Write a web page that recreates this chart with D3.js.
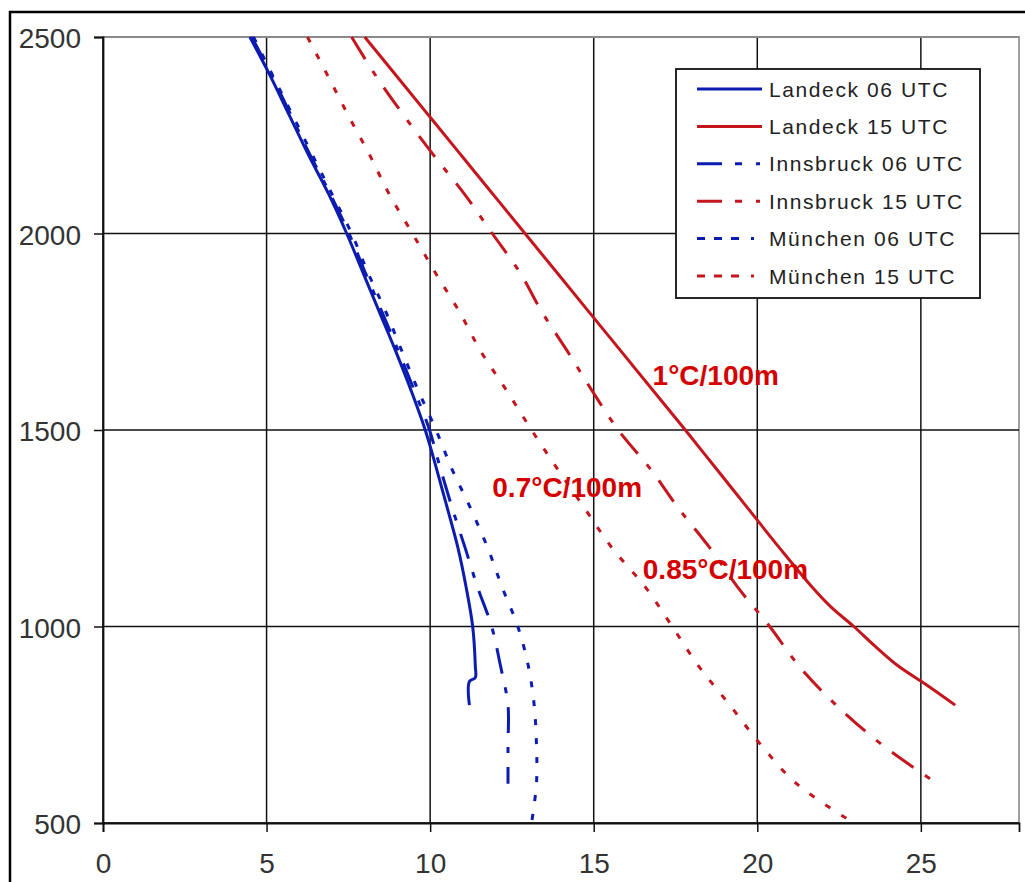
<!DOCTYPE html>
<html>
<head>
<meta charset="utf-8">
<script src="https://cdn.jsdelivr.net/npm/d3@7"></script>
<style>
  html, body { margin: 0; padding: 0; background: #fff; }
  svg { display: block; }
</style>
</head>
<body>
<svg id="chart" width="1025" height="882"></svg>
<script>
// ---- data ----
const xTicks = [0, 5, 10, 15, 20, 25];
const yTicks = [500, 1000, 1500, 2000, 2500];

const landeck06H = [2500, 2400, 2300, 2200, 2100, 2000, 1900, 1800, 1700, 1600, 1500, 1400, 1300, 1200, 1100, 1000, 900, 870, 860, 800];
const landeck06T = [4.49, 5.12, 5.7, 6.28, 6.9, 7.45, 7.95, 8.45, 8.95, 9.42, 9.85, 10.2, 10.53, 10.85, 11.1, 11.3, 11.38, 11.38, 11.2, 11.2];

const landeck15H = [2500, 2400, 2300, 2200, 2100, 2000, 1900, 1800, 1700, 1600, 1500, 1400, 1300, 1200, 1100, 1050, 1000, 950, 900, 850, 800];
const landeck15T = [8.0, 8.98, 9.96, 10.94, 11.92, 12.9, 13.88, 14.86, 15.84, 16.82, 17.8, 18.76, 19.72, 20.68, 21.68, 22.25, 22.95, 23.6, 24.3, 25.2, 26.05];

const innsbruck06H = [2500, 2400, 2300, 2200, 2100, 2000, 1900, 1800, 1700, 1600, 1500, 1400, 1300, 1200, 1100, 1000, 900, 800, 700, 600];
const innsbruck06T = [4.55, 5.17, 5.75, 6.33, 6.95, 7.52, 8.02, 8.53, 9.03, 9.52, 9.98, 10.32, 10.68, 11.07, 11.45, 11.88, 12.15, 12.38, 12.38, 12.38];

const innsbruck15H = [2500, 2400, 2300, 2200, 2100, 2000, 1900, 1800, 1700, 1600, 1500, 1400, 1300, 1200, 1100, 1000, 900, 800, 700, 600];
const innsbruck15T = [7.6, 8.35, 9.2, 10.1, 11.05, 11.9, 12.75, 13.42, 14.2, 14.95, 15.75, 16.74, 17.6, 18.55, 19.4, 20.38, 21.27, 22.41, 23.8, 25.5];

const muenchen06H = [2500, 2400, 2300, 2200, 2100, 2000, 1900, 1800, 1700, 1600, 1500, 1400, 1300, 1200, 1100, 1000, 900, 800, 700, 600, 500];
const muenchen06T = [4.6, 5.2, 5.8, 6.4, 7.0, 7.6, 8.1, 8.65, 9.14, 9.64, 10.18, 10.67, 11.24, 11.76, 12.2, 12.68, 13.0, 13.18, 13.25, 13.25, 13.1];

const muenchen15H = [2500, 2400, 2300, 2200, 2100, 2000, 1900, 1800, 1700, 1600, 1500, 1400, 1300, 1200, 1100, 1000, 900, 800, 700, 600, 500];
const muenchen15T = [6.25, 6.88, 7.5, 8.15, 8.75, 9.46, 10.16, 10.9, 11.55, 12.34, 13.1, 13.9, 14.73, 15.56, 16.58, 17.4, 18.2, 19.16, 20.1, 21.2, 22.95];

const seriesNames = ["Landeck 06 UTC", "Landeck 15 UTC", "Innsbruck 06 UTC", "Innsbruck 15 UTC", "München 06 UTC", "München 15 UTC"];
const annotations = ["1°C/100m", "0.7°C/100m", "0.85°C/100m"];
const annotationX = [16.8, 11.9, 16.5];
const annotationY = [1615, 1330, 1120];

// ---- styles ----
const BLUE = "#0c1cb0";
const RED = "#c4161c";
const DASHDOT = "26,14,6,14";
const DOTTED = "6,13";

const series = [
  { name: seriesNames[0], h: landeck06H, t: landeck06T, color: BLUE, dash: null },
  { name: seriesNames[1], h: landeck15H, t: landeck15T, color: RED, dash: null },
  { name: seriesNames[2], h: innsbruck06H, t: innsbruck06T, color: BLUE, dash: DASHDOT },
  { name: seriesNames[3], h: innsbruck15H, t: innsbruck15T, color: RED, dash: DASHDOT },
  { name: seriesNames[4], h: muenchen06H, t: muenchen06T, color: BLUE, dash: DOTTED },
  { name: seriesNames[5], h: muenchen15H, t: muenchen15T, color: RED, dash: DOTTED }
];

const svg = d3.select("#chart");
const pLeft = 103, pRight = 1019, pTop = 37, pBottom = 823;

const x = d3.scaleLinear().domain([0, 28]).range([pLeft, pRight]);
const y = d3.scaleLinear().domain([500, 2500]).range([pBottom, pTop]);

// outer frame
svg.append("rect").attr("x", 10).attr("y", 12).attr("width", 1200).attr("height", 1200)
  .attr("fill", "#fff").attr("stroke", "#000").attr("stroke-width", 2.5);

// plot area border (gray)
svg.append("rect").attr("x", pLeft).attr("y", pTop).attr("width", pRight - pLeft).attr("height", pBottom - pTop)
  .attr("fill", "#fff").attr("stroke", "#a0a0a0").attr("stroke-width", 2);

// grid lines
const g = svg.append("g");
g.selectAll("line.vx").data(xTicks).enter().append("line")
  .attr("x1", d => x(d)).attr("x2", d => x(d)).attr("y1", pTop).attr("y2", pBottom)
  .attr("stroke", "#111").attr("stroke-width", 1.5);
g.selectAll("line.hy").data(yTicks.filter(d => d !== 2500)).enter().append("line")
  .attr("x1", pLeft).attr("x2", pRight).attr("y1", d => y(d)).attr("y2", d => y(d))
  .attr("stroke", "#111").attr("stroke-width", 1.5);
g.append("line").attr("x1", pLeft).attr("x2", pRight).attr("y1", pTop).attr("y2", pTop)
  .attr("stroke", "#8a8a8a").attr("stroke-width", 1.8);

// axes
const xAxis = d3.axisBottom(x).tickValues(xTicks).tickFormat(d3.format("d")).tickSize(9).tickPadding(14);
const yAxis = d3.axisLeft(y).tickValues(yTicks).tickFormat(d3.format("d")).tickSize(9).tickPadding(13);

const gx = svg.append("g").attr("transform", `translate(0,${pBottom})`).call(xAxis);
const gy = svg.append("g").attr("transform", `translate(${pLeft},0)`).call(yAxis);
[gx, gy].forEach(a => {
  a.select(".domain").attr("stroke", "#111").attr("stroke-width", 1.8);
  a.selectAll(".tick line").attr("stroke", "#111").attr("stroke-width", 1.5);
  a.selectAll(".tick text").attr("fill", "#333")
    .style("font-family", "Arial, 'Liberation Sans', sans-serif").style("font-size", "28px");
});
gx.selectAll(".tick text").attr("dy", "0.71em").attr("y", 30);
gy.selectAll(".tick text").attr("dy", "0.38em");

// lines
const line = d3.line()
  .x(d => x(d[1]))
  .y(d => y(d[0]))
  .curve(d3.curveCatmullRom.alpha(0.5));

const lg = svg.append("g");
series.forEach(s => {
  const pts = s.h.map((h, i) => [h, s.t[i]]);
  lg.append("path")
    .attr("d", line(pts))
    .attr("fill", "none")
    .attr("stroke", s.color)
    .attr("stroke-width", 3)
    .attr("stroke-dasharray", s.dash)
    .attr("stroke-linecap", "butt");
});

// annotations
svg.selectAll("text.ann").data(annotations).enter().append("text")
  .attr("class", "ann")
  .attr("x", (d, i) => x(annotationX[i]))
  .attr("y", (d, i) => y(annotationY[i]))
  .attr("fill", "#d40000")
  .style("font-family", "Arial, 'Liberation Sans', sans-serif")
  .style("font-size", "28px")
  .style("font-weight", "bold")
  .text(d => d);

// legend
const legX = 676, legY = 69, legW = 304, legH = 229;
const leg = svg.append("g");
leg.append("rect").attr("x", legX).attr("y", legY).attr("width", legW).attr("height", legH)
  .attr("fill", "#fff").attr("stroke", "#111").attr("stroke-width", 1.8);
const rowY = d3.scaleLinear().domain([0, 5]).range([89, 276]);
series.forEach((s, i) => {
  const cy = rowY(i);
  leg.append("line").attr("x1", 697).attr("x2", 762).attr("y1", cy).attr("y2", cy)
    .attr("stroke", s.color).attr("stroke-width", 3)
    .attr("stroke-dasharray", s.dash ? (s.dash === DASHDOT ? "25,13,7,14,4,10" : "8,9,8,9,8,12,3,10") : null);
  leg.append("text").attr("x", 769).attr("y", cy + 7.5)
    .attr("fill", "#222")
    .style("font-family", "Arial, 'Liberation Sans', sans-serif")
    .style("font-size", "21px")
    .style("letter-spacing", "1.6px")
    .text(s.name);
});
</script>
</body>
</html>
